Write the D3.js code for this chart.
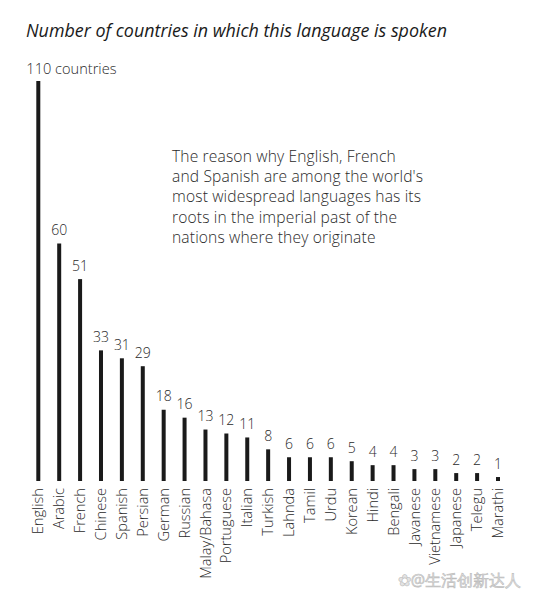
<!DOCTYPE html>
<html>
<head>
<meta charset="utf-8">
<script src="https://cdn.jsdelivr.net/npm/d3@7"></script>
<style>
  html, body { margin: 0; padding: 0; background: #fff; }
  svg { display: block; }
  text { font-family: "Open Sans", "Noto Sans", sans-serif; }
  .lbl { font-weight: 300; }
</style>
</head>
<body>
<svg id="chart" width="535" height="599"></svg>
<script>
const title = "Number of countries in which this language is spoken";
const languages = ["English","Arabic","French","Chinese","Spanish","Persian","German","Russian","Malay/Bahasa","Portuguese","Italian","Turkish","Lahnda","Tamil","Urdu","Korean","Hindi","Bengali","Javanese","Vietnamese","Japanese","Telegu","Marathi"];
const countries = [110,60,51,33,31,29,18,16,13,12,11,8,6,6,6,5,4,4,3,3,2,2,1];
const noteLines = [
  "The reason why English, French",
  "and Spanish are among the world's",
  "most widespread languages has its",
  "roots in the imperial past of the",
  "nations where they originate"
];
const watermark = "✿@生活创新达人";

const svg = d3.select("#chart");
const baseline = 481;

const x = d3.scalePoint().domain(languages).range([38.3, 498]);
// broken scale: the English bar is shortened above 60
const y = d3.scaleLinear().domain([0, 60, 110]).range([baseline, 243.5, 81]);

// title
svg.append("text")
  .attr("x", 26).attr("y", 37)
  .attr("font-size", 17.9).attr("font-style", "italic")
  .attr("fill", "#1a1a1a")
  .text(title);

// bars
svg.append("g").selectAll("rect")
  .data(languages)
  .join("rect")
  .attr("x", d => x(d) - 2)
  .attr("width", 4)
  .attr("y", (d, i) => y(countries[i]))
  .attr("height", (d, i) => baseline - y(countries[i]))
  .attr("fill", "#1a1a1a");

// value labels
svg.append("g").selectAll("text")
  .data(languages)
  .join("text")
  .attr("class", "lbl")
  .attr("x", (d, i) => i === 0 ? x(d) - 12 : x(d))
  .attr("y", (d, i) => y(countries[i]) - (i === 0 ? 7 : 8.5))
  .attr("text-anchor", (d, i) => i === 0 ? "start" : "middle")
  .attr("font-size", (d, i) => i === 0 ? 14.6 : 14)
  .attr("fill", "#2a2a2a")
  .text((d, i) => i === 0 ? countries[i] + " countries" : countries[i]);

// category labels
svg.append("g").selectAll("text")
  .data(languages)
  .join("text")
  .attr("class", "lbl")
  .attr("transform", d => `translate(${x(d)},${baseline + 7}) rotate(-90)`)
  .attr("text-anchor", "end")
  .attr("dy", "0.35em")
  .attr("font-size", 14.6)
  .attr("fill", "#2a2a2a")
  .text(d => d);

// annotation
svg.append("g").selectAll("text")
  .data(noteLines)
  .join("text")
  .attr("class", "lbl")
  .attr("x", 172)
  .attr("y", (d, i) => 162 + i * 20.2)
  .attr("font-size", 15.6)
  .attr("letter-spacing", 0.15)
  .attr("fill", "#2a2a2a")
  .text(d => d);

// watermark
svg.append("text")
  .attr("x", 521).attr("y", 586)
  .attr("text-anchor", "end")
  .attr("font-family", "'Noto Sans CJK SC', sans-serif")
  .attr("font-size", 16)
  .attr("fill", "#e4e4e4")
  .attr("stroke", "#bdbdbd").attr("stroke-width", 0.6)
  .text(watermark);
</script>
</body>
</html>
